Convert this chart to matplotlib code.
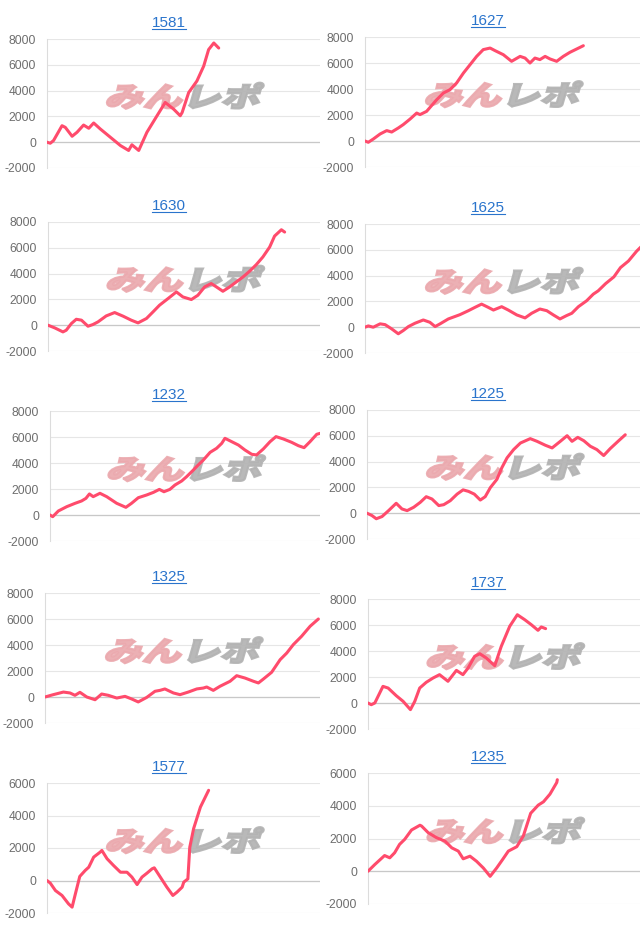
# plot.py
# Ten small cumulative-result line charts (2 x 5 grid) with a watermark logo

import matplotlib.pyplot as plt
from matplotlib.lines import Line2D
from matplotlib.textpath import TextPath
from matplotlib.patches import PathPatch
from matplotlib.font_manager import FontProperties
from matplotlib.transforms import Affine2D, ScaledTranslation
from matplotlib.ticker import FuncFormatter, NullLocator

plt.rcParams['font.family'] = ['Liberation Sans', 'DejaVu Sans']
plt.rcParams['axes.unicode_minus'] = False

# ── data (x = % of visible plot width, y = cumulative value) ─────────
TITLES = ['1581', '1627', '1630', '1625', '1232',
          '1225', '1325', '1737', '1577', '1235']

X_1581 = [0, 1.2, 2.4, 5.5, 6.7, 9.2, 11.0, 13.4, 15.3, 17.1, 19.5, 23.2, 26.9, 29.9,
          31.1, 33.6, 36.6, 40.3, 43.3, 46.4, 48.8, 49.5, 51.9, 54.9, 57.4, 59.2, 61.1, 62.9]
Y_1581 = [0, -80, 130, 1280, 1150, 460, 770, 1330, 1080, 1490, 1030, 385, -260, -640,
          -200, -640, 770, 2050, 3080, 2560, 2050, 2300, 3850, 4740, 5900, 7180, 7690, 7300]

X_1627 = [0, 1.2, 3.0, 5.5, 7.9, 9.7, 12.1, 13.9, 16.4, 18.8, 20.0, 22.4, 24.2, 26.1, 28.5,
          30.9, 33.3, 35.8, 38.2, 40.6, 43.0, 45.5, 47.3, 50.3, 53.3, 56.4, 58.2, 60.0, 61.8,
          63.6, 65.5, 67.3, 69.7, 72.1, 74.5, 77.0, 79.4]
Y_1627 = [0, -100, 150, 540, 800, 690, 1000, 1260, 1690, 2150, 2030, 2280, 2720, 3180, 3690,
          3950, 4460, 5230, 5870, 6510, 7030, 7150, 6950, 6640, 6130, 6510, 6380, 6000, 6380,
          6260, 6510, 6310, 6130, 6510, 6820, 7080, 7330]

X_1630 = [0, 2.5, 5.5, 6.7, 8.6, 10.4, 12.3, 14.7, 16.5, 18.4, 21.4, 24.5, 27.6, 30.6, 33.1,
          36.2, 38.6, 41.0, 44.1, 47.2, 49.6, 52.7, 55.1, 57.6, 60.0, 61.9, 64.3, 66.8, 69.2,
          71.7, 74.1, 76.6, 79.0, 81.5, 83.3, 85.8, 87.0]
Y_1630 = [0, -210, -520, -390, 130, 460, 390, -80, 50, 260, 720, 980, 700, 390, 180,
          520, 1030, 1550, 2060, 2580, 2190, 1990, 2320, 2970, 3230, 2970, 2630, 2970, 3350,
          3740, 4180, 4700, 5290, 6060, 6910, 7400, 7220]

X_1625 = [0, 1.2, 3.0, 5.5, 7.3, 9.7, 12.1, 13.9, 15.8, 18.2, 21.2, 23.6, 25.5, 27.3, 30.3,
          34.5, 37.6, 40.0, 42.4, 44.8, 46.7, 49.7, 52.1, 55.2, 58.2, 60.6, 63.6, 66.1, 68.5,
          70.9, 73.3, 75.2, 77.6, 80.6, 83.0, 84.8, 87.5, 90.5, 92.9, 95.8, 98.8, 100.6]
Y_1625 = [0, 100, 0, 260, 200, -130, -510, -260, 50, 310, 560, 380, 50, 260, 640,
          970, 1280, 1540, 1790, 1540, 1330, 1590, 1330, 950, 720, 1080, 1410, 1280, 950,
          640, 900, 1080, 1590, 2050, 2560, 2820, 3380, 3900, 4620, 5130, 5900, 6280]

X_1232 = [0, 1.0, 3.1, 6.2, 9.3, 11.7, 13.3, 14.6, 16.0, 18.5, 21.0, 24.7, 28.1, 30.2, 32.7,
          35.8, 38.3, 40.5, 42.2, 44.4, 46.3, 48.8, 50.6, 53.1, 54.9, 56.8, 59.3, 61.7, 63.6,
          64.8, 67.3, 69.8, 72.2, 74.7, 76.5, 79.0, 81.5, 83.7, 86.4, 89.5, 92.0, 94.1, 96.3,
          98.8, 100.0]
Y_1232 = [0, -130, 310, 640, 900, 1080, 1280, 1620, 1410, 1670, 1410, 900, 590, 900, 1330,
          1540, 1740, 1970, 1790, 1970, 2310, 2620, 2950, 3460, 3850, 4230, 4820, 5130, 5510,
          5900, 5640, 5380, 5000, 4670, 4620, 5080, 5640, 6030, 5850, 5590, 5330, 5180, 5640,
          6210, 6280]

X_1225 = [0, 1.8, 3.4, 5.5, 7.9, 10.7, 12.8, 14.7, 17.1, 19.5, 21.7, 23.8, 26.3, 28.1, 30.5,
          33.0, 35.2, 37.2, 39.3, 41.5, 43.3, 45.2, 47.6, 49.4, 51.3, 53.7, 56.2, 59.8, 62.3,
          65.3, 67.8, 70.8, 73.3, 75.1, 77.2, 79.4, 81.8, 84.2, 86.7, 89.1, 92.2, 94.6]
Y_1225 = [0, -180, -430, -260, 200, 770, 330, 200, 460, 840, 1280, 1100, 590, 660, 970,
          1480, 1810, 1690, 1480, 1020, 1280, 1990, 2630, 3530, 4290, 4930, 5440, 5780, 5570,
          5270, 5060, 5570, 6010, 5570, 5880, 5620, 5190, 4930, 4470, 5010, 5620, 6080]

X_1325 = [0, 3.0, 6.7, 9.1, 10.9, 12.7, 15.2, 18.2, 20.6, 23.0, 26.1, 29.1, 31.5, 33.9, 37.0,
          40.0, 41.8, 43.6, 46.7, 49.1, 52.1, 55.2, 57.6, 58.8, 61.2, 63.6, 67.3, 69.7, 72.7,
          75.8, 77.6, 79.4, 82.4, 85.5, 87.9, 90.3, 93.3, 96.4, 99.4]
Y_1325 = [0, 180, 380, 310, 130, 360, 0, -210, 230, 130, -80, 50, -150, -380, -30,
          440, 510, 620, 310, 180, 380, 620, 690, 770, 510, 820, 1210, 1640, 1460,
          1210, 1080, 1380, 1900, 2870, 3380, 4030, 4670, 5440, 6000]

X_1737 = [0, 1.2, 2.5, 5.5, 7.4, 10.4, 12.9, 15.6, 17.2, 19.0, 21.4, 23.9, 26.3, 29.4, 32.5,
          34.9, 36.8, 39.2, 41.1, 43.5, 46.6, 49.0, 52.1, 54.9, 57.6, 60.0, 62.5, 63.7, 65.3]
Y_1737 = [0, -130, 0, 1280, 1150, 560, 130, -510, 130, 1150, 1590, 1920, 2180, 1670, 2510,
          2180, 2690, 3590, 3790, 3460, 2870, 4360, 5900, 6790, 6410, 6030, 5590, 5850, 5720]

X_1577 = [0, 1.2, 3.1, 5.5, 7.9, 9.2, 10.4, 12.0, 14.0, 15.3, 17.1, 19.5, 20.1, 22.0, 24.4,
          26.9, 29.3, 31.1, 33.0, 34.8, 36.6, 38.5, 39.3, 41.5, 43.9, 46.1, 47.6, 49.5, 50.1,
          51.6, 52.3, 53.7, 56.2, 59.2]
Y_1577 = [0, -160, -620, -920, -1440, -1640, -820, 250, 620, 820, 1440, 1750, 1850, 1340, 920,
          510, 510, 210, -250, 210, 450, 720, 780, 210, -410, -920, -720, -410, -100,
          100, 2050, 3190, 4520, 5550]

X_1235 = [0, 2.5, 6.1, 8.0, 9.8, 11.6, 13.5, 16.0, 19.1, 19.7, 22.1, 25.2, 28.3, 30.8, 33.2,
          35.0, 37.5, 39.9, 42.4, 44.9, 47.3, 49.5, 51.6, 54.7, 57.1, 59.8, 62.6, 64.5, 66.9,
          69.4, 69.6]
Y_1235 = [0, 410, 960, 820, 1130, 1640, 1950, 2520, 2810, 2760, 2360, 2050, 1840, 1430, 1230,
          760, 920, 610, 200, -310, 200, 720, 1230, 1500, 2150, 3540, 4040, 4240, 4710,
          5420, 5590]

SERIES_X = [X_1581, X_1627, X_1630, X_1625, X_1232, X_1225, X_1325, X_1737, X_1577, X_1235]
SERIES_Y = [Y_1581, Y_1627, Y_1630, Y_1625, Y_1232, Y_1225, Y_1325, Y_1737, Y_1577, Y_1235]
Y_TOP = [8000, 8000, 8000, 8000, 8000, 8000, 8000, 8000, 6000, 6000]

# ── layout (pixels): spine x, plot top, plot bottom, right edge ──────
PANEL_BOX = [(47, 39, 168, 320), (365, 37, 167, 640),
             (48, 222, 351, 320), (365, 224, 353, 640),
             (50, 411, 541, 320), (367, 410, 539, 640),
             (45, 593, 723, 320), (368, 599, 729, 640),
             (47, 783, 913, 320), (368, 773, 904, 640)]
TITLE_X = [169, 488]

W, H = 640, 931
LINE_COL = '#ff4b6c'
TITLE_COL = '#2a74cc'
TICK_COL = '#6e6e6e'

fig = plt.figure(figsize=(W / 100, H / 100), dpi=100)
fig.patch.set_facecolor('white')

logo_fp = FontProperties(family='Noto Sans CJK JP', weight='black')
p_pink = TextPath((0, 0), 'みん', size=10, prop=logo_fp)
p_gray = TextPath((p_pink.get_extents().x1 + 0.4, 0), 'レポ', size=10, prop=logo_fp)
ext_a, ext_b = p_pink.get_extents(), p_gray.get_extents()
lx0, lx1 = ext_a.x0, ext_b.x1
ly0, ly1 = min(ext_a.y0, ext_b.y0), max(ext_a.y1, ext_b.y1)
LOGO_W, LOGO_H = 152, 26


def add_logo(ax):
    base = (Affine2D()
            .translate(-(lx0 + lx1) / 2, -(ly0 + ly1) / 2)
            .scale(LOGO_W / (lx1 - lx0), LOGO_H / (ly1 - ly0))
            .skew_deg(16, 0))
    tr = base + ScaledTranslation(0.505, 0.56, ax.transAxes)
    for path, col in ((p_pink, '#eba9ae'), (p_gray, '#b3b3b3')):
        ax.add_artist(PathPatch(path, transform=tr, facecolor=col,
                                edgecolor=col, lw=1.6, joinstyle='miter',
                                alpha=0.92, zorder=1.5))


title_texts = []
for i, (xs, ys) in enumerate(zip(SERIES_X, SERIES_Y)):
    sx, top, bot, right = PANEL_BOX[i]
    ax = fig.add_axes([sx / W, 1 - bot / H, (right - sx) / W, (bot - top) / H])
    ax.set_xlim(0, 100)
    ax.set_ylim(-2000, Y_TOP[i])
    ax.set_yticks(range(-2000, Y_TOP[i] + 1, 2000))
    ax.yaxis.set_major_formatter(FuncFormatter(lambda v, p: f'{int(v)}'))
    ax.xaxis.set_major_locator(NullLocator())
    ax.tick_params(axis='y', length=0, pad=8, labelsize=8.7, labelcolor=TICK_COL)
    for s in ('top', 'right', 'bottom'):
        ax.spines[s].set_visible(False)
    ax.spines['left'].set_color('#dcdcdc')
    ax.spines['left'].set_linewidth(0.8)
    ax.yaxis.grid(True, color='#e6e6e6', lw=0.8)
    ax.set_axisbelow(True)
    ax.axhline(0, color='#c8c8c8', lw=0.9, zorder=1)
    add_logo(ax)
    ax.plot(xs, ys, color=LINE_COL, lw=2.2, solid_joinstyle='round',
            solid_capstyle='round', zorder=3)

    ty = top - 12
    t = fig.text(TITLE_X[i % 2] / W, 1 - ty / H, TITLES[i], ha='center',
                 va='baseline', fontsize=11, color=TITLE_COL)
    title_texts.append((t, ty))

# underline the link-style titles
fig.canvas.draw()
rend = fig.canvas.get_renderer()
for t, ty in title_texts:
    bb = t.get_window_extent(rend)
    uy = 1 - (ty + 2) / H
    fig.add_artist(Line2D([bb.x0 / W, bb.x1 / W], [uy, uy], transform=fig.transFigure,
                          color=TITLE_COL, lw=0.8))

fig.savefig('out.png', dpi=100)
